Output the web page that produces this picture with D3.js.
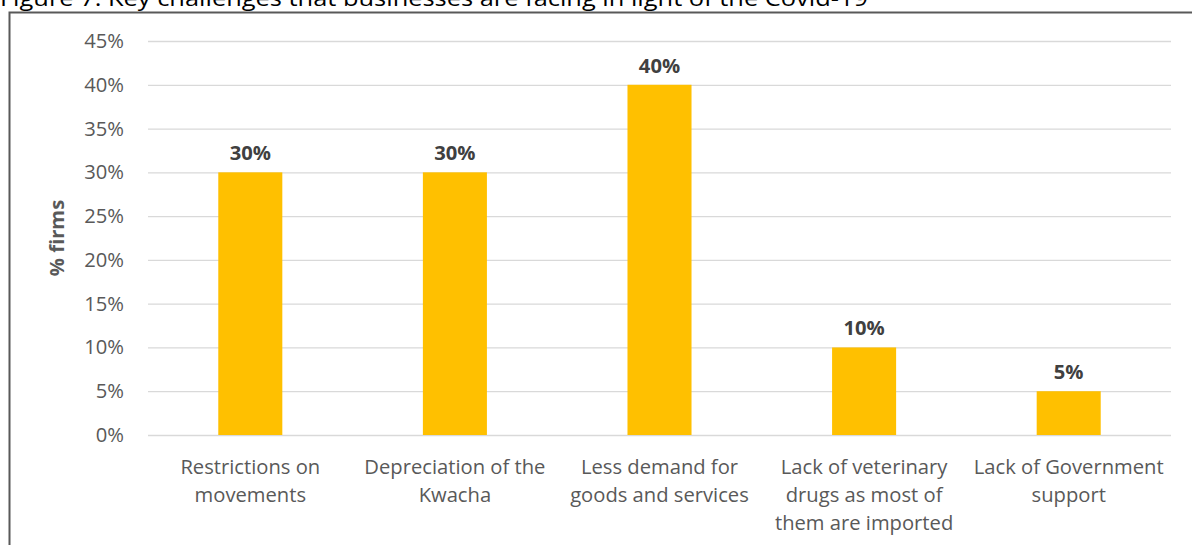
<!DOCTYPE html>
<html>
<head>
<meta charset="utf-8">
<script src="https://cdn.jsdelivr.net/npm/d3@7"></script>
<style>
  html, body { margin: 0; padding: 0; background: #fff; }
  svg { display: block; }
</style>
</head>
<body>
<svg id="chart" width="1192" height="545"></svg>
<script>
// Share of firms citing each challenge
const categories = [
  ["Restrictions on", "movements"],
  ["Depreciation of the", "Kwacha"],
  ["Less demand for", "goods and services"],
  ["Lack of veterinary", "drugs as most of", "them are imported"],
  ["Lack of Government", "support"]
];
const values = [0.30, 0.30, 0.40, 0.10, 0.05];
const yTicks = [0, 0.05, 0.10, 0.15, 0.20, 0.25, 0.30, 0.35, 0.40, 0.45];
const titleText = "Figure 7: Key challenges that businesses are facing in light of the Covid-19";
const yTitle = "% firms";

const font = "'Open Sans', sans-serif";
const fs = 20.2;
const svg = d3.select("#chart");

// Caption above the frame
svg.append("text")
  .attr("x", 0).attr("y", 6)
  .attr("font-family", font).attr("font-size", 21)
  .attr("fill", "#000")
  .attr("textLength", 868).attr("lengthAdjust", "spacingAndGlyphs")
  .text(titleText);

// Chart frame
svg.append("path")
  .attr("d", "M9.5,545 L9.5,12.5 L1192,12.5")
  .attr("fill", "none").attr("stroke", "#595959").attr("stroke-width", 2);

const plotLeft = 148, plotRight = 1171, plotTop = 41, plotBottom = 435;

const x = d3.scaleBand()
  .domain(d3.range(values.length))
  .range([plotLeft, plotRight])
  .paddingInner(0.687)
  .paddingOuter(0.3435);

const y = d3.scaleLinear().domain([0, 0.45]).range([plotBottom, plotTop]);

// Gridlines and y tick labels
const yAxis = d3.axisLeft(y)
  .tickValues(yTicks)
  .tickFormat(d3.format(".0%"))
  .tickSize(-(plotRight - plotLeft))
  .tickPadding(24);

const gy = svg.append("g").attr("transform", `translate(${plotLeft},0)`).call(yAxis);
gy.select(".domain").remove();
gy.selectAll(".tick line").attr("stroke", "#d9d9d9").attr("stroke-width", 1.3);
gy.selectAll(".tick text")
  .attr("font-family", font).attr("font-size", fs)
  .attr("fill", "#595959");

// Bars
svg.append("g").selectAll("rect")
  .data(values)
  .join("rect")
  .attr("x", (d, i) => x(i))
  .attr("y", d => y(d))
  .attr("width", x.bandwidth())
  .attr("height", d => y(0) - y(d))
  .attr("fill", "#FFC000");

// Value labels
svg.append("g").selectAll("text")
  .data(values)
  .join("text")
  .attr("x", (d, i) => x(i) + x.bandwidth() / 2)
  .attr("y", d => y(d) - 12)
  .attr("text-anchor", "middle")
  .attr("font-family", font).attr("font-size", fs).attr("font-weight", "bold")
  .attr("fill", "#404040")
  .text(d3.format(".0%"));

// Category labels
const cat = svg.append("g").selectAll("text")
  .data(categories)
  .join("text")
  .attr("text-anchor", "middle")
  .attr("font-family", font).attr("font-size", fs)
  .attr("fill", "#595959");
cat.selectAll("tspan")
  .data((d, i) => d.map(line => ({ line, i })))
  .join("tspan")
  .attr("x", d => x(d.i) + x.bandwidth() / 2)
  .attr("y", (d, j) => 474 + j * 28)
  .text(d => d.line);

// Y axis title
svg.append("text")
  .attr("transform", `translate(64,${(plotTop + plotBottom) / 2}) rotate(-90)`)
  .attr("text-anchor", "middle")
  .attr("font-family", font).attr("font-size", fs).attr("font-weight", "bold")
  .attr("fill", "#595959")
  .text(yTitle);
</script>
</body>
</html>
